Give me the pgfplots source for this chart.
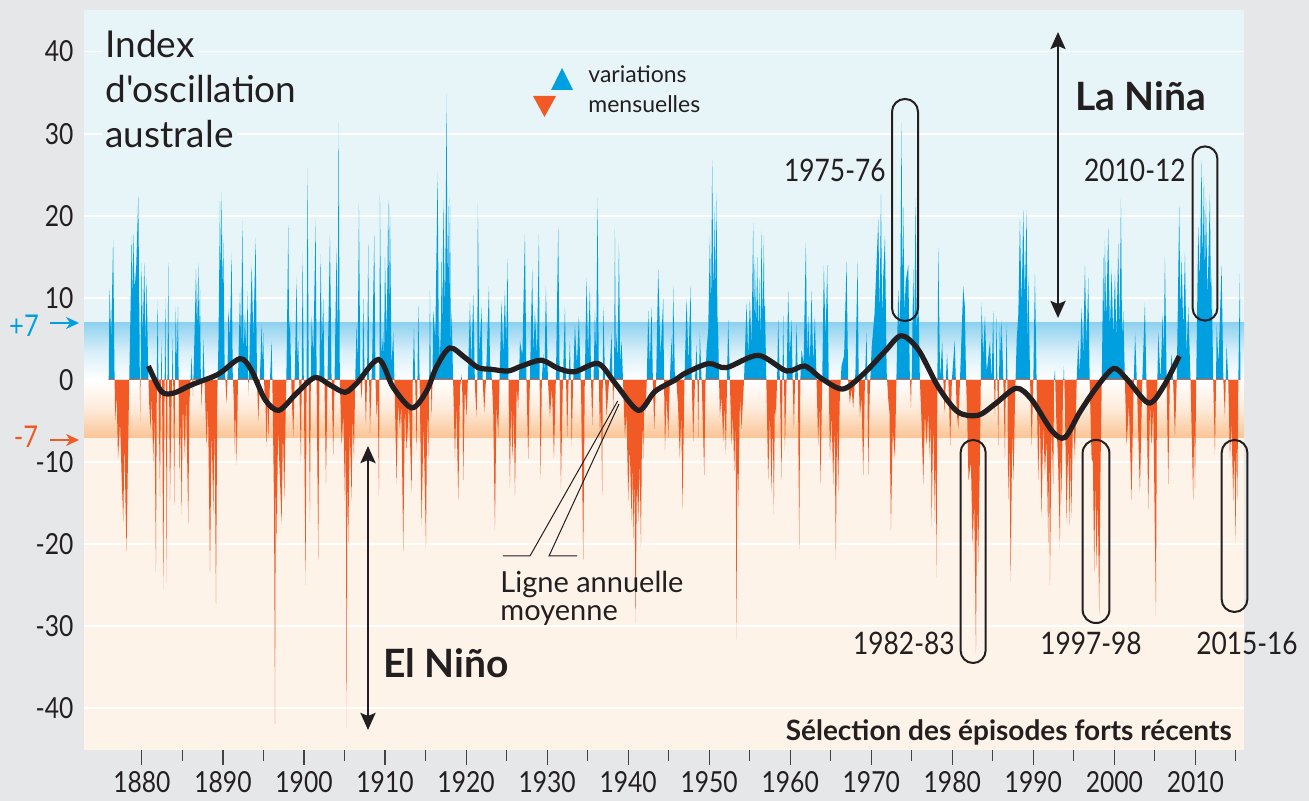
\documentclass[border=0pt]{standalone}
\usepackage{pgfplots}
\pgfplotsset{compat=1.18}
\usepackage{pgfplotstable}
\usepackage{fontspec}
\setmainfont{Lato}[Ligatures=TeXOff]
\newfontfamily\condf{Lato}[FakeStretch=0.85]
\usetikzlibrary{arrows.meta}
\definecolor{bggray}{HTML}{E6E7E8}
\definecolor{upbg}{HTML}{E8F5F8}
\definecolor{lowbg}{HTML}{FDF3E9}
\definecolor{bandup}{HTML}{8ED1EF}
\definecolor{banddn}{HTML}{FAC596}
\definecolor{spblue}{HTML}{00A0E0}
\definecolor{sporange}{HTML}{F15A24}
\definecolor{ink}{HTML}{231F20}

\pgfplotstableread{
t v
1875.90 0
1876.00 11.2
1876.20 5
1876.45 17.1
1876.60 2
1876.70 -5
1876.88 -2
1877.05 -9.7
1877.30 -5
1877.50 -12
1877.70 -17.3
1877.85 -7
1877.95 -14
1878.10 -20.9
1878.30 -8
1878.45 1
1878.60 9
1878.73 17.6
1878.83 9
1878.93 17.8
1879.10 11
1879.30 14
1879.55 22.4
1879.68 8
1879.78 -5
1879.88 5
1879.96 14.3
1880.10 5
1880.29 14.3
1880.45 4
1880.58 12.4
1880.75 2
1880.90 -3
1881.07 -6
1881.20 -2
1881.40 -10
1881.55 -4
1881.73 -23.4
1881.85 2
1881.94 9.7
1882.05 -2
1882.23 -14.2
1882.33 -1
1882.43 5
1882.52 -6
1882.64 -25.5
1882.78 -3
1882.90 10
1882.98 -5
1883.05 -24.7
1883.15 0
1883.25 14.3
1883.36 -2
1883.46 -14.7
1883.65 -3
1883.80 5.1
1883.90 -4
1883.99 -15.2
1884.08 0
1884.16 8.9
1884.30 2
1884.45 8.9
1884.55 -3
1884.65 -12
1884.75 -4
1884.90 -16.4
1885.05 -3
1885.31 -9.5
1885.45 -2
1885.72 -17.6
1885.85 -3
1886.00 0
1886.13 3
1886.30 -2
1886.50 6
1886.67 13.5
1886.80 6
1886.96 14.3
1887.06 5
1887.16 11.5
1887.27 0
1887.37 -3.4
1887.47 0
1887.57 5
1887.70 1
1887.85 -4
1887.98 -8
1888.15 -3
1888.40 -23.4
1888.60 -6
1888.81 -16.4
1888.95 -5
1889.14 -27.3
1889.30 -2
1889.45 5
1889.63 21.8
1889.73 12
1889.84 22.9
1889.94 10
1890.04 17.1
1890.20 2
1890.35 -1
1890.45 -2.9
1890.55 0
1890.66 8.6
1890.85 5
1891.07 15.5
1891.20 1
1891.35 -3
1891.48 -9.1
1891.58 -3
1891.69 -10.4
1891.85 0
1892.10 10.6
1892.25 4
1892.39 19.4
1892.55 3
1892.71 8.1
1892.88 3
1893.04 10.9
1893.13 -1.9
1893.25 2
1893.54 14
1893.75 5
1894.03 17.3
1894.20 0
1894.36 -5
1894.55 0
1894.77 6.8
1894.87 2
1894.97 5.7
1895.10 -1
1895.25 -3
1895.39 -8.2
1895.50 -2
1895.60 -7.2
1895.80 0
1896.01 4.8
1896.15 -4
1896.30 -15
1896.42 -41.9
1896.52 -12
1896.62 -19.9
1896.80 -6
1896.95 -10
1897.24 -17.6
1897.40 -6
1897.57 -14.6
1897.72 -5
1897.85 2
1898.06 18.9
1898.16 5
1898.26 7.8
1898.45 -1
1898.68 -7
1898.85 0
1899.09 12.5
1899.19 2
1899.29 4.8
1899.45 -2
1899.62 -10.1
1899.72 0
1899.83 15.5
1900.00 -3
1900.20 -25
1900.32 0
1900.44 25.8
1900.58 0
1900.73 -17.3
1900.84 0
1900.94 7.8
1901.15 3
1901.43 19.4
1901.58 -3
1901.76 -21.9
1901.90 0
1902.05 15.3
1902.20 4
1902.38 9.9
1902.55 -2
1902.71 -12.7
1902.90 0
1903.20 17.6
1903.40 0
1903.61 -9.1
1903.80 2
1904.02 16.1
1904.15 4
1904.27 31.4
1904.42 0
1904.64 -8
1904.85 -4
1905.05 -14.7
1905.15 -6
1905.26 -42.4
1905.36 -10
1905.46 -19.8
1905.65 -6
1905.87 -14.7
1906.00 -4
1906.16 -9.6
1906.32 0
1906.49 6.8
1906.62 2
1906.78 21.4
1906.95 0
1907.11 -2.4
1907.21 0
1907.31 9.9
1907.48 0
1907.64 -5.5
1907.78 0
1907.93 16.6
1908.04 0
1908.14 -6.5
1908.40 2
1908.67 17.6
1908.82 0
1908.96 -4.5
1909.10 -2
1909.25 -14.2
1909.31 0
1909.37 22.5
1909.55 3
1909.78 5.8
1909.88 2
1909.99 15
1910.20 5
1910.40 21.9
1910.50 8
1910.60 21.2
1910.80 2
1911.02 5.8
1911.20 -2
1911.43 -12.7
1911.60 -3
1911.84 -6
1912.00 -3
1912.25 -20.9
1912.45 -3
1912.66 -8.6
1912.95 -3
1913.28 -13.7
1913.42 0
1913.57 6.3
1913.72 0
1913.90 -8.6
1914.00 0
1914.10 9.1
1914.30 -2
1914.51 -17.8
1914.75 -5
1915.05 -20.4
1915.20 -3
1915.34 -9.6
1915.45 0
1915.54 10.9
1915.65 0
1915.75 -4.5
1915.85 0
1915.95 8.4
1916.20 5
1916.49 25.3
1916.65 2
1916.78 5.8
1916.88 3
1916.98 16.1
1917.08 6
1917.19 21.9
1917.40 8
1917.60 34.8
1917.70 10
1917.80 21.2
1917.90 9
1918.01 22.2
1918.11 4
1918.21 8.4
1918.40 0
1918.63 -9.6
1918.80 -3
1919.04 -14.7
1919.25 -1
1919.45 0.7
1919.55 -2
1919.65 -12.2
1919.85 -1
1920.07 -4.5
1920.25 1
1920.48 9.4
1920.65 2
1920.89 10.4
1921.10 -1
1921.30 -4.5
1921.38 0
1921.45 21.5
1921.65 3
1921.91 8.9
1922.05 0
1922.24 -3.9
1922.45 0
1922.82 11.4
1922.95 2
1923.15 0.7
1923.35 -4
1923.56 -18.3
1923.75 -3
1923.97 -7
1924.15 1
1924.38 9.6
1924.58 3
1924.79 10.9
1924.95 4
1925.12 14.8
1925.25 -2
1925.41 -13.2
1925.55 -3
1925.74 -9.6
1925.88 -3
1926.03 -14.2
1926.25 -1
1926.44 -3.4
1926.54 0
1926.64 4.8
1926.95 3
1927.26 17.8
1927.45 0
1927.67 -9.6
1927.90 1
1928.16 13.5
1928.32 3
1928.49 8.4
1928.75 3
1928.99 17.8
1929.08 0
1929.19 -12.2
1929.35 0
1929.52 3.2
1929.68 1
1929.85 11.4
1930.10 0
1930.35 -4.5
1930.60 -1
1930.84 -9.6
1931.10 1
1931.37 18.6
1931.55 0
1931.70 -13.2
1931.95 0
1932.20 8.9
1932.34 0
1932.48 -7
1932.65 0
1932.81 4.8
1932.92 0
1933.02 -8
1933.22 0
1933.43 6.8
1933.68 2
1933.92 7.8
1934.20 -2
1934.46 -21.9
1934.65 0
1934.87 12.5
1935.05 3
1935.28 11.4
1935.42 0
1935.57 -5.5
1935.73 0
1935.90 8.4
1936.05 3
1936.23 22.2
1936.38 0
1936.52 -7
1936.65 -3
1936.80 -14.2
1936.87 0
1936.93 8.9
1937.15 0
1937.34 -4.5
1937.65 0
1937.96 5.8
1938.06 0
1938.16 -3.4
1938.26 0
1938.37 18.4
1938.47 3
1938.57 5.8
1938.70 2
1938.86 16.6
1939.02 2
1939.19 4.8
1939.40 -1
1939.60 -7
1939.80 -4
1940.01 -14.7
1940.20 -8
1940.42 -17.3
1940.52 -10
1940.63 -19.3
1940.78 -12
1940.92 -29.6
1941.08 -12
1941.25 -17.3
1941.42 -10
1941.58 -20.4
1941.72 -5
1941.86 -9.6
1942.00 -2
1942.15 -3.9
1942.30 0
1942.48 8.4
1942.68 2
1942.89 8.9
1943.05 0
1943.22 -6
1943.45 0
1943.71 13.5
1944.00 3
1944.33 9.9
1944.43 0
1944.54 -8.6
1944.75 -2
1944.95 -7
1945.15 0
1945.36 5.3
1945.46 1
1945.56 11.4
1945.75 1
1945.97 -0.4
1946.15 -3
1946.38 -9.6
1946.55 -4
1946.71 -15.7
1946.95 0
1947.21 9.9
1947.45 2
1947.70 11.4
1947.85 0
1948.03 -7.5
1948.25 0
1948.44 4.3
1948.55 0
1948.65 -7
1948.75 0
1948.85 5.8
1949.10 -1
1949.39 -11.6
1949.55 0
1949.67 3.7
1949.88 6
1950.09 17.6
1950.23 8
1950.37 26.8
1950.53 10
1950.70 21.2
1950.80 10
1950.91 22.7
1951.01 8
1951.11 5.8
1951.22 0
1951.32 -4.5
1951.52 -2
1951.73 -7.5
1951.90 -3
1952.06 -9.1
1952.20 0
1952.35 7.3
1952.55 0
1952.76 -8
1952.92 -4
1953.09 -11.1
1953.25 -5
1953.38 -31.6
1953.48 -8
1953.58 -15.7
1953.80 -2
1953.99 -6
1954.30 0
1954.61 9.4
1954.81 3
1955.02 9.9
1955.22 4
1955.43 19.1
1955.53 6
1955.64 15
1955.78 6
1955.93 15
1956.05 5
1956.17 12.5
1956.32 5
1956.46 18.1
1956.60 7
1956.75 17.6
1956.81 6
1956.87 9.9
1957.05 0
1957.28 -12.2
1957.50 -4
1957.70 -13.7
1957.85 -5
1957.98 -16.3
1958.10 -3
1958.23 -4.5
1958.38 0
1958.52 7.3
1958.72 0
1958.93 -12.2
1959.04 0
1959.14 7.8
1959.24 0
1959.34 -8.6
1959.55 0
1959.75 10.9
1959.95 3
1960.16 7.3
1960.30 0
1960.45 -6
1960.60 0
1960.78 6.8
1960.95 0
1961.11 -20.6
1961.25 0
1961.40 3.7
1961.65 2
1961.93 16.8
1962.08 3
1962.22 7.8
1962.42 2
1962.63 10.9
1962.83 2
1963.04 7.8
1963.25 0
1963.45 -8
1963.60 -3
1963.74 -12.7
1963.95 0
1964.15 14
1964.36 5
1964.57 14
1964.75 0
1964.90 -9.6
1965.10 -4
1965.31 -12.7
1965.47 -5
1965.63 -21.9
1965.78 -5
1965.92 -13.7
1966.12 -2
1966.33 1.7
1966.65 3
1966.95 14.5
1967.15 0
1967.36 -2.9
1967.56 -1
1967.77 -3.4
1968.05 1
1968.31 14.5
1968.45 0
1968.60 -4.5
1968.80 -2
1969.01 -11.6
1969.22 0
1969.42 5.8
1969.52 0
1969.63 -11.6
1969.80 -2
1970.05 4
1970.40 8
1970.87 19.6
1971.03 8
1971.20 22.7
1971.35 7
1971.45 12
1971.69 17.6
1971.90 1
1972.10 -2.4
1972.25 -4
1972.43 -18.3
1972.65 -6
1972.92 -9.6
1973.10 0
1973.33 10.9
1973.55 6
1973.74 31.4
1973.85 10
1973.95 21.2
1974.10 8
1974.25 12
1974.57 14
1974.75 1
1974.90 -3.4
1975.02 2
1975.18 13.5
1975.32 6
1975.47 22.2
1975.62 6
1975.80 10.9
1976.00 0
1976.20 -5
1976.42 -12.7
1976.62 -4
1976.83 -8
1977.02 -4
1977.24 -9.6
1977.35 -4
1977.45 -17.8
1977.65 -5
1977.86 -17.3
1977.96 -8
1978.06 -24
1978.16 0
1978.27 16.1
1978.50 0
1978.75 4.8
1978.90 0
1979.05 -4
1979.20 0
1979.35 3.2
1979.55 -1
1979.75 -8
1979.95 0
1980.30 4.8
1980.55 -4
1980.75 -6
1980.95 0
1981.35 11.4
1981.55 8.9
1981.70 0
1981.85 -5
1982.00 -12.2
1982.30 -10
1982.50 -20
1982.70 -15
1982.92 -33.2
1983.05 -15
1983.20 -22.3
1983.40 -9.6
1983.52 0
1983.62 9.4
1983.80 3
1984.03 7.8
1984.25 1
1984.65 4.8
1984.85 0
1985.06 8.4
1985.15 0
1985.26 -4.5
1985.36 0
1985.46 7.8
1985.56 0
1985.67 -8
1985.77 0
1985.87 6.8
1986.00 3
1986.08 7.3
1986.30 0
1986.50 -9.6
1986.60 0
1986.70 6.8
1986.80 0
1986.90 -14.7
1987.05 -8
1987.20 -24.5
1987.40 -6
1987.55 -12.2
1987.75 -2
1987.95 5
1988.15 8
1988.35 19.6
1988.55 9
1988.76 20.7
1988.95 10
1989.17 20.7
1989.30 3
1989.38 12.8
1989.60 0
1989.80 -8
1990.00 0
1990.20 13
1990.40 0
1990.61 -12.2
1990.80 -4
1991.02 -16.8
1991.22 -5
1991.43 -11.6
1991.63 -7
1991.84 -19.8
1991.95 -9
1992.05 -25
1992.25 -6
1992.46 -12.7
1992.56 0
1992.67 1.2
1992.80 -4
1993.06 -10
1993.28 -20.4
1993.38 -8
1993.49 -14.7
1993.65 -2
1993.77 1.7
1993.90 -3
1994.10 -17.3
1994.30 -8
1994.50 -17.8
1994.60 -8
1994.70 -16.8
1994.90 -4
1995.13 -9.6
1995.35 0
1995.54 4.8
1995.75 1
1995.95 8.9
1996.15 3
1996.37 14
1996.57 4
1996.78 12.5
1996.95 0
1997.19 -9.6
1997.35 -10
1997.52 -23.4
1997.65 -12
1997.80 -22.9
1997.95 -14
1998.13 -28.6
1998.30 -10
1998.45 0
1998.63 15
1998.73 6
1998.83 17.1
1999.00 7
1999.24 18.6
1999.45 6
1999.66 13.5
1999.86 5
2000.07 13
2000.25 5
2000.48 16.6
2000.65 6
2000.81 22
2000.95 5
2001.10 8.4
2001.30 0
2001.51 -8
2001.80 -3
2002.12 -14.7
2002.35 -2
2002.56 5.8
2002.80 -1
2003.15 -13.7
2003.45 0
2003.77 9.4
2003.95 0
2004.18 -15.7
2004.40 -3
2004.60 -8
2004.80 -3
2005.13 -28.8
2005.25 -3
2005.42 5.8
2005.70 0
2005.95 8
2006.10 3
2006.24 15
2006.45 0
2006.65 -12.7
2006.85 0
2007.06 3.2
2007.25 0
2007.47 -7
2007.70 0
2008.01 21.2
2008.15 8
2008.30 15
2008.50 6
2008.71 15.5
2008.90 3
2009.12 8.9
2009.40 0
2009.73 -14.7
2009.85 -5
2009.95 -13.2
2010.10 0
2010.35 18.6
2010.55 12
2010.76 26.8
2010.90 14
2011.05 24.8
2011.18 12
2011.30 22.2
2011.50 10
2011.79 22.7
2011.95 6
2012.00 13.5
2012.20 0
2012.41 -9.1
2012.55 0
2012.62 6.8
2012.85 2
2013.23 14
2013.45 0
2013.64 -4.5
2013.75 0
2013.85 4.3
2014.05 0
2014.26 -9.6
2014.45 -5
2014.67 -14.7
2014.80 -8
2014.96 -19.8
2015.08 -7
2015.17 -14.7
2015.30 0
2015.49 13
2015.55 0
}\soi

\pgfplotstableread{
t v
1880.8 1.7
1882.4 -1.4
1883.9 -1.6
1886.1 -0.6
1889.4 0.7
1892.1 2.6
1893.5 1.2
1895.2 -2.4
1896.9 -3.7
1899.1 -1.6
1901.35 0.3
1903.2 -0.6
1905.05 -1.5
1906.5 -0.4
1909.2 2.5
1911.0 -0.9
1913.3 -3.4
1915.1 -1.4
1916.4 1.7
1918.0 3.9
1919.9 2.7
1921.5 1.5
1923.1 1.3
1925.2 1.1
1926.85 1.7
1929.3 2.4
1931.4 1.4
1933.4 1.0
1936.3 2.0
1938.4 -0.4
1941.25 -3.7
1943.3 -1.4
1945.8 0
1946.8 0.7
1949.9 2.0
1952.1 1.5
1956.05 3.0
1959.55 1.1
1961.8 1.7
1963.9 0.15
1966.5 -1.1
1969.0 0.7
1971.7 3.5
1973.7 5.4
1975.8 3.7
1978.3 -0.9
1980.7 -3.9
1983.2 -4.3
1985.3 -2.9
1987.9 -1.0
1989.8 -2.4
1992.3 -6.2
1993.9 -7.0
1995.75 -3.9
1997.8 -0.9
1999.9 1.4
2001.5 0.15
2004.2 -2.8
2006.0 -0.9
2008.0 2.9
}\smoothline

\begin{document}
\begin{tikzpicture}
% page background and plot-area colour bands (absolute, 1px = 0.5pt)
\begin{scope}[x=1pt,y=1pt]
\fill[bggray] (0,0) rectangle (654.5,400.5);
\fill[upbg] (42,210.5) rectangle (622,395.5);
\fill[lowbg] (42,25.5) rectangle (622,210.5);
\shade[bottom color=white, top color=bandup, middle color=bandup!35] (42,210.5) rectangle (622,239.2);
\shade[top color=white, bottom color=banddn, middle color=banddn!35] (42,181.8) rectangle (622,210.5);
\end{scope}
\begin{axis}[
  at={(42pt,25.5pt)}, anchor=south west,
  scale only axis, width=580pt, height=370pt,
  xmin=1872.85, xmax=2016, ymin=-45.07, ymax=45.07,
  axis line style={draw=none},
  clip=false,
  ytick={-40,-30,...,40},
  ymajorgrids, grid style={white, line width=0.9pt},
  xtick={1880,1890,...,2010},
  minor xtick={1885,1895,...,2015},
  tick align=outside, tick pos=left,
  major tick length=7.5pt, minor tick length=5.3pt,
  xtick style={ink!85, line width=0.55pt},
  minor tick style={ink!85, line width=0.55pt},
  ytick style={draw=none},
  /pgf/number format/1000 sep={},
  /pgf/number format/assume math mode=true,
  xticklabel style={font=\condf\fontsize{14.5}{15}\selectfont, text=ink, yshift=0.5pt},
  yticklabel style={font=\condf\fontsize{14.5}{15}\selectfont, text=ink, xshift=5.75pt},
]
\begin{scope}
\clip (axis cs:1870,0) rectangle (axis cs:2020,46);
\addplot[draw=none, fill=spblue] table[x=t,y=v] {\soi} \closedcycle;
\end{scope}
\begin{scope}
\clip (axis cs:1870,-46) rectangle (axis cs:2020,0);
\addplot[draw=none, fill=sporange] table[x=t,y=v] {\soi} \closedcycle;
\end{scope}
\addplot[smooth, ink, line width=2.6pt] table[x=t,y=v] {\smoothline};
\end{axis}
% annotations
\begin{scope}[x=1pt,y=1pt, text=ink]
\node[anchor=base west, fill=upbg, inner sep=1.5pt, font=\fontsize{18.5}{21}\selectfont] at (51,371.5) {Index};
\node[anchor=base west, fill=upbg, inner sep=1.5pt, font=\fontsize{18.5}{21}\selectfont] at (51,349) {d'oscillation};
\node[anchor=base west, fill=upbg, inner sep=1.5pt, font=\fontsize{18.5}{21}\selectfont] at (51,326.5) {australe};
% legend
\fill[spblue] (275.5,355.5) -- (286.5,355.5) -- (281,366.5) -- cycle;
\fill[sporange] (266.5,352.5) -- (278,352.5) -- (272.25,342) -- cycle;
\node[anchor=base west, inner sep=0pt, font=\fontsize{11.5}{13}\selectfont] at (294,359) {variations};
\node[anchor=base west, inner sep=0pt, font=\fontsize{11.5}{13}\selectfont] at (294,344) {mensuelles};
% +7 / -7
\node[text=spblue, font=\condf\fontsize{15}{16}\selectfont, inner sep=0pt] at (12,237.5) {+7};
\draw[spblue, line width=1pt, -{Stealth[length=6.5pt,width=6pt]}] (25,239) -- (39.5,239);
\node[text=sporange, font=\condf\fontsize{15}{16}\selectfont, inner sep=0pt] at (13,182) {-7};
\draw[sporange, line width=1pt, -{Stealth[length=6.5pt,width=6pt]}] (25,180.5) -- (39.5,180.5);
% La Nina / El Nino
\draw[ink, line width=1.3pt, {Stealth[length=8.5pt,width=7.5pt,inset=1.5pt]}-{Stealth[length=8.5pt,width=7.5pt,inset=1.5pt]}] (529,384.5) -- (529,241.5);
\node[anchor=base west, inner sep=0pt, font=\fontsize{19.5}{22}\selectfont\bfseries] at (537.5,345.2) {La Niña};
\draw[ink, line width=1.3pt, {Stealth[length=8.5pt,width=7.5pt,inset=1.5pt]}-{Stealth[length=8.5pt,width=7.5pt,inset=1.5pt]}] (184,177.5) -- (184,35.5);
\node[anchor=base west, inner sep=0pt, font=\fontsize{19.5}{22}\selectfont\bfseries] at (191.5,61.5) {El Niño};
% capsules
\draw[ink, line width=1pt, rounded corners=6.4pt] (446,240) rectangle (459,351);
\draw[ink, line width=1pt, rounded corners=6.2pt] (480.3,69) rectangle (492.8,180.5);
\draw[ink, line width=1pt, rounded corners=6.6pt] (541.3,89) rectangle (554.7,180.5);
\draw[ink, line width=1pt, rounded corners=6.2pt] (596.3,240.2) rectangle (608.7,327.3);
\draw[ink, line width=1pt, rounded corners=6.4pt] (610.8,94.5) rectangle (623.7,180.5);
\node[anchor=east, inner sep=0pt, font=\condf\fontsize{15.5}{16}\selectfont] at (443,315.5) {1975-76};
\node[anchor=east, inner sep=0pt, font=\condf\fontsize{15.5}{16}\selectfont] at (477.5,79) {1982-83};
\node[inner sep=0pt, font=\condf\fontsize{15.5}{16}\selectfont] at (545.5,79) {1997-98};
\node[anchor=east, inner sep=0pt, font=\condf\fontsize{15.5}{16}\selectfont] at (593,315.5) {2010-12};
\node[inner sep=0pt, font=\condf\fontsize{15.5}{16}\selectfont] at (623.5,79) {2015-16};
% Ligne annuelle moyenne
\draw[ink, line width=0.5pt] (251.5,122.5) -- (265,122.5) -- (308.85,200);
\draw[ink, line width=0.5pt] (288.5,122.5) -- (274.5,122.5) -- (309.5,198.5);
\node[anchor=base west, inner sep=0pt, font=\fontsize{14.5}{15}\selectfont] at (250,104.2) {Ligne annuelle};
\node[anchor=base west, inner sep=0pt, font=\fontsize{14.5}{15}\selectfont] at (250,90.2) {moyenne};
% selection
\node[anchor=base east, inner sep=0pt, font=\fontsize{14}{15}\selectfont\bfseries] at (616,30) {Sélection des épisodes forts récents};
\end{scope}
\pgfresetboundingbox
\path (0pt,0pt) rectangle (654.5pt,400.5pt);
\end{tikzpicture}
\end{document}
